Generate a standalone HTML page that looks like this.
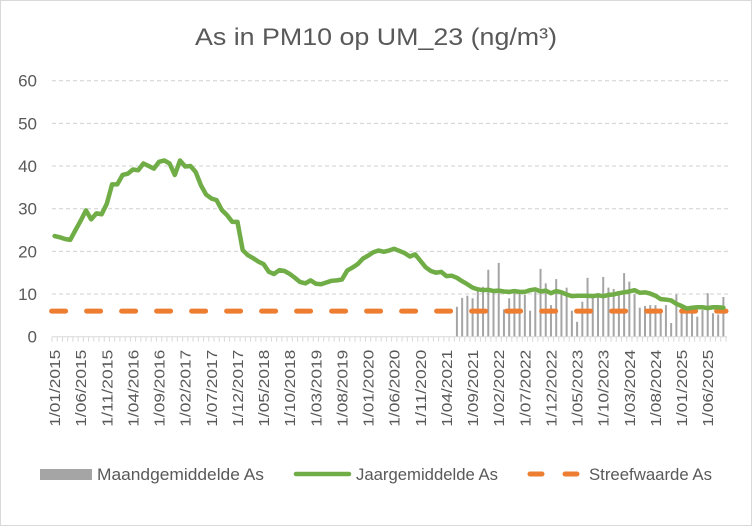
<!DOCTYPE html>
<html><head><meta charset="utf-8"><style>
body{margin:0;background:#fff}
svg{display:block;font-family:"Liberation Sans",sans-serif}
</style></head><body>
<svg id="chart" width="752" height="526">
<rect x="0.5" y="0.5" width="751" height="525" fill="#fff" stroke="#d9d9d9"/>
<text x="195" y="45" textLength="362" lengthAdjust="spacingAndGlyphs" font-size="24" fill="#595959">As in PM10 op UM_23 (ng/m³)</text>
<g id="grid"></g><g id="bars"></g><g id="lines"></g><g id="axes"></g>
<g>
<rect x="40" y="469" width="52" height="11" fill="#A5A5A5"/>
<text x="97" y="480" textLength="167" lengthAdjust="spacingAndGlyphs" font-size="17" fill="#595959">Maandgemiddelde As</text>
<line x1="296" y1="474" x2="349" y2="474" stroke="#70AD47" stroke-width="4.5" stroke-linecap="round"/>
<text x="356" y="480" textLength="142" lengthAdjust="spacingAndGlyphs" font-size="17" fill="#595959">Jaargemiddelde As</text>
<line x1="530" y1="474" x2="580" y2="474" stroke="#ED7D31" stroke-width="5" stroke-dasharray="12 23" stroke-linecap="round"/>
<text x="589" y="480" textLength="123" lengthAdjust="spacingAndGlyphs" font-size="17" fill="#595959">Streefwaarde As</text>
</g>
</svg>
<script>
const yTicks=[0,10,20,30,40,50,60];
const jaar=[23.6,23.3,22.9,22.7,25.0,27.2,29.6,27.5,28.9,28.7,31.2,35.7,35.7,37.9,38.2,39.2,39.0,40.6,40.0,39.4,41.0,41.3,40.6,37.9,41.3,39.9,40.0,38.6,35.5,33.3,32.4,32.0,29.7,28.5,26.9,26.9,20.3,19.1,18.4,17.6,17.0,15.2,14.7,15.6,15.4,14.7,13.8,12.8,12.5,13.2,12.4,12.3,12.7,13.1,13.2,13.4,15.5,16.2,17.0,18.3,19.0,19.8,20.2,19.9,20.2,20.6,20.1,19.6,18.8,19.3,17.8,16.3,15.4,15.0,15.2,14.2,14.3,13.8,13.0,12.3,11.5,11.1,10.9,11.0,10.7,10.8,10.6,10.5,10.7,10.5,10.5,10.9,11.1,10.6,10.8,10.2,10.7,10.4,9.9,9.5,9.6,9.6,9.6,9.5,9.7,9.5,9.8,9.9,10.2,10.4,10.6,10.9,10.3,10.4,10.1,9.6,8.8,8.7,8.5,7.7,7.2,6.6,6.8,6.9,6.9,6.7,6.9,6.9,6.8];
const maandStart=77;
const maand=[7.0,9.1,9.6,9.0,10.9,11.7,15.7,10.5,17.3,6.4,9.0,10.5,10.9,9.8,6.1,10.5,15.9,12.5,7.4,13.5,10.2,11.5,6.1,3.5,8.2,13.8,9.5,10.2,14.0,11.5,11.2,10.7,14.9,12.9,9.9,6.8,7.2,7.4,7.4,6.6,7.4,3.2,9.9,7.4,6.6,5.9,4.7,6.3,10.2,5.5,5.2,9.3];
const streef=6;
const n=jaar.length;
const months=[];
for(let i=0;i<n;i++){const y=2015+Math.floor(i/12),m=i%12+1;months.push("1/"+String(m).padStart(2,"0")+"/"+y);}
const X0=52,X1=726,Y0=336.7,Y60=80.7;
const bw=(X1-X0)/n;
const xs=i=>X0+bw*(i+0.5);
const ys=v=>Y0-(v/60)*(Y0-Y60);
const NS="http://www.w3.org/2000/svg";
function mk(tag,attrs,parent){const e=document.createElementNS(NS,tag);for(const k in attrs)e.setAttribute(k,attrs[k]);document.getElementById(parent).appendChild(e);return e;}
yTicks.forEach(t=>{
 if(t>0){const g=mk("line",{x1:X0,x2:X1+2,y1:ys(t),y2:ys(t),stroke:"#d0d0d0","stroke-dasharray":"4 3"},"grid");
 
 }
 const l=mk("text",{x:37,y:ys(t)+6,"text-anchor":"end","font-size":"17",fill:"#595959"},"axes");
 l.textContent=t;
 
 
});
maand.forEach((v,k)=>{
 const i=maandStart+k;
 const b=mk("rect",{x:xs(i)-1,y:ys(v),width:2,height:Y0-ys(v),fill:"#A5A5A5"},"bars");
 
 
});
const sl=mk("line",{x1:xs(0)-3,x2:X1,y1:ys(streef),y2:ys(streef),stroke:"#ED7D31","stroke-width":5,"stroke-dasharray":"14 21","stroke-linecap":"round"},"lines");


const pl=mk("polyline",{points:jaar.map((v,i)=>xs(i)+","+ys(v)).join(" "),fill:"none",stroke:"#70AD47","stroke-width":4.5,"stroke-linejoin":"round","stroke-linecap":"round"},"lines");


const ax=mk("line",{x1:X0,x2:X1+1,y1:Y0,y2:Y0,stroke:"#d9d9d9"},"axes");


for(let i=0;i<=n;i++){
 const tk=mk("line",{x1:X0+bw*i,x2:X0+bw*i,y1:Y0,y2:Y0+5,stroke:"#d9d9d9"},"axes");
 
 
}
for(let i=0;i<n;i+=5){
 const x=xs(i)+5.5,y=Y0+13;
 const t=mk("text",{x:x,y:y,"text-anchor":"end","font-size":"15",textLength:"77",lengthAdjust:"spacingAndGlyphs",fill:"#595959",transform:`rotate(-90 ${x} ${y})`},"axes");
 t.textContent=months[i];
 
 
}
</script>
</body></html>
